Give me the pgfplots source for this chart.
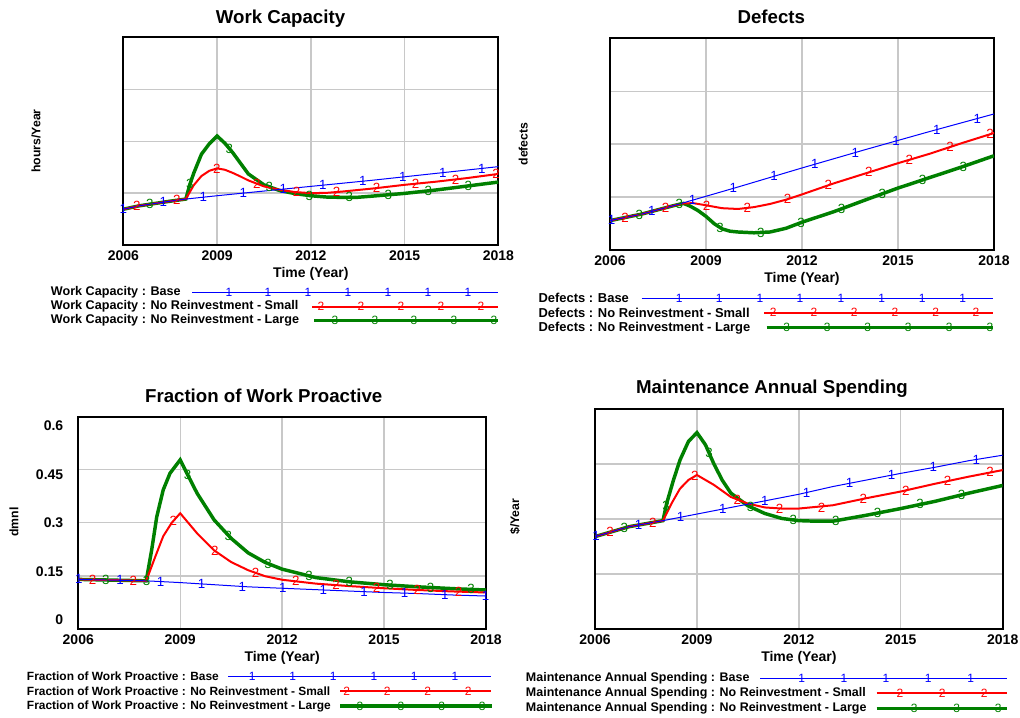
\documentclass[border=0pt]{standalone}
\usepackage{pgfplots}
\pgfplotsset{compat=1.18}
\usepackage{fontspec}
\setmainfont{Liberation Sans}

\definecolor{vblue}{RGB}{0,0,255}
\definecolor{vred}{RGB}{255,0,0}
\definecolor{vgreen}{RGB}{0,128,0}
\definecolor{vgrid}{RGB}{200,200,200}

\newcommand\tfont{\fontsize{14}{16}\selectfont\bfseries}
\newcommand\lfont{\fontsize{9.2}{11}\selectfont\bfseries}
\newcommand\mfont{\fontsize{10}{11}\selectfont}
\newcommand\gfont{\fontsize{9}{10}\selectfont}
\newcommand\kfont{\fontsize{10.5}{12}\selectfont\bfseries}

\pgfplotsset{
  vens/.style={
    scale only axis, anchor=north west,
    xmin=2006, xmax=2018, ymin=0, ymax=4,
    xtick={2006,2009,2012,2015,2018},
    xticklabels={2006,2009,2012,2015,2018},
    ytick={1,2,3}, yticklabels={},
    grid=major,
    major grid style={draw=vgrid, line width=1pt},
    axis line style={line width=1.5pt},
    major tick length=0pt,
    xticklabel style={font=\kfont, yshift=-1pt},
    xlabel={Time (Year)},
    xlabel style={font=\kfont, at={(axis description cs:0.5,0)}, anchor=center, yshift=-21.75pt},
  },
  s1/.style={draw=vblue, line width=0.75pt, mark=none},
  s2/.style={draw=vred, line width=1.5pt, mark=none},
  s3/.style={draw=vgreen, line width=2.6pt, mark=none},
  m1/.style={color=vblue, only marks, mark=text, text mark={1}, text mark as node=true,
    text mark style={font=\mfont, inner sep=0pt, text=vblue}},
  m2/.style={color=vred, only marks, mark=text, text mark={2}, text mark as node=true,
    text mark style={font=\mfont, inner sep=0pt, text=vred}},
  m3/.style={color=vgreen, only marks, mark=text, text mark={3}, text mark as node=true,
    text mark style={font=\mfont, inner sep=0pt, text=vgreen}},
}

\begin{document}
\begin{tikzpicture}
\path[use as bounding box] (0,0) rectangle (765pt,-537.75pt);

% ---------------- Work Capacity
\begin{axis}[vens, at={(92.5pt,-28pt)}, width=281.25pt, height=155.8pt]
\addplot[s3] coordinates {(2006,0.69) (2006.5,0.755) (2007,0.80) (2007.5,0.845) (2008,0.886)
 (2008.125,1.16) (2008.25,1.38) (2008.5,1.75) (2008.75,1.95) (2009,2.10) (2009.25,1.96) (2009.5,1.78)
 (2010,1.37) (2010.5,1.16) (2011,1.05) (2011.5,0.99) (2012,0.95) (2012.5,0.925) (2013,0.918)
 (2013.5,0.92) (2014,0.944) (2015,0.995) (2016,1.06) (2017,1.136) (2018,1.213)};
\addplot[s2] coordinates {(2006,0.69) (2006.5,0.755) (2007,0.80) (2007.5,0.845) (2008,0.886)
 (2008.25,1.15) (2008.5,1.33) (2008.75,1.43) (2009,1.477) (2009.25,1.45) (2009.5,1.39) (2009.75,1.32)
 (2010,1.245) (2010.5,1.13) (2011,1.065) (2011.5,1.02) (2012,1.0) (2012.5,1.005) (2013,1.03)
 (2014,1.09) (2015,1.16) (2016,1.22) (2017,1.29) (2018,1.37)};
\addplot[s1] coordinates {(2006,0.69) (2006.5,0.755) (2007,0.80) (2007.5,0.845) (2008,0.886)
 (2009,0.95) (2010,1.01) (2011,1.07) (2012,1.13) (2013,1.19) (2014,1.25) (2015,1.315)
 (2016,1.38) (2017,1.445) (2018,1.51)};
\addplot[m1] coordinates {(2006.0,0.69) (2007.28,0.825) (2008.56,0.922) (2009.84,1.0) (2011.12,1.077)
 (2012.38,1.153) (2013.66,1.23) (2014.94,1.311) (2016.22,1.394) (2017.47,1.476)};
\addplot[m2] coordinates {(2006.43,0.746) (2007.71,0.862) (2008.99,1.475) (2010.27,1.183) (2011.54,1.018)
 (2012.82,1.02) (2014.1,1.097) (2015.35,1.181) (2016.63,1.264) (2017.93,1.364)};
\addplot[m3] coordinates {(2006.85,0.787) (2008.13,1.17) (2009.39,1.86) (2010.67,1.123) (2011.95,0.954)
 (2013.23,0.918) (2014.48,0.969) (2015.76,1.044) (2017.04,1.139)};
\end{axis}

% ---------------- Defects
\begin{axis}[vens, at={(457.5pt,-28.7pt)}, width=288pt, height=158.8pt]
\addplot[s3] coordinates {(2006,0.555) (2007,0.68) (2008,0.84) (2008.3,0.88) (2008.5,0.83)
 (2008.75,0.745) (2009,0.635) (2009.25,0.50) (2009.5,0.40) (2009.75,0.355) (2010,0.34) (2010.5,0.325)
 (2011,0.34) (2011.5,0.41) (2012,0.525) (2013,0.725) (2014,0.95) (2015,1.17) (2016,1.37)
 (2017,1.57) (2018,1.78)};
\addplot[s2] coordinates {(2006,0.555) (2007,0.68) (2008,0.84) (2008.3,0.88) (2008.6,0.885)
 (2009,0.845) (2009.5,0.79) (2010,0.775) (2010.5,0.81) (2011,0.87) (2011.5,0.95) (2012,1.05)
 (2013,1.26) (2014,1.45) (2015,1.64) (2016,1.82) (2017,2.02) (2018,2.21)};
\addplot[s1] coordinates {(2006,0.555) (2007,0.68) (2008,0.84) (2009,1.015) (2010,1.19) (2011,1.37)
 (2012,1.55) (2013,1.725) (2014,1.90) (2015,2.07) (2016,2.24) (2017,2.405) (2018,2.57)};
\addplot[m1] coordinates {(2006.05,0.561) (2007.31,0.73) (2008.58,0.942) (2009.85,1.164) (2011.13,1.393)
 (2012.40,1.62) (2013.67,1.842) (2014.94,2.06) (2016.21,2.275) (2017.48,2.484)};
\addplot[m2] coordinates {(2006.47,0.614) (2007.74,0.798) (2009.02,0.843) (2010.29,0.795) (2011.55,0.96)
 (2012.82,1.222) (2014.09,1.467) (2015.35,1.703) (2016.63,1.946) (2017.88,2.187)};
\addplot[m3] coordinates {(2006.92,0.67) (2008.17,0.863) (2009.44,0.424) (2010.71,0.331) (2011.97,0.518)
 (2013.24,0.779) (2014.51,1.062) (2015.77,1.324) (2017.04,1.578)};
\end{axis}

% ---------------- Fraction of Work Proactive
\begin{axis}[vens, at={(58.7pt,-312.5pt)}, width=305.8pt, height=159.2pt,
  ymax=0.6, ytick={0.15,0.3,0.45}, yticklabels={},
  extra y ticks={0.0254,0.1625,0.30,0.437,0.574},
  extra y tick labels={0,0.15,0.3,0.45,0.6},
  extra y tick style={grid=none, yticklabel style={font=\kfont, xshift=-7.75pt}}]
\addplot[s3] coordinates {(2006,0.140) (2007,0.138) (2008,0.136) (2008.16,0.223) (2008.31,0.317)
 (2008.5,0.393) (2008.7,0.44) (2009,0.478) (2009.25,0.43) (2009.5,0.383) (2010,0.308) (2010.5,0.256)
 (2011,0.215) (2011.5,0.188) (2012,0.169) (2013,0.145) (2014,0.133) (2015,0.125) (2016,0.119)
 (2017,0.114) (2018,0.110)};
\addplot[s2] coordinates {(2006,0.140) (2007,0.138) (2008,0.136) (2008.25,0.20) (2008.5,0.262)
 (2008.75,0.30) (2009,0.327) (2009.5,0.27) (2010,0.222) (2010.5,0.189) (2011,0.166) (2011.5,0.149)
 (2012,0.139) (2013,0.128) (2014,0.121) (2015,0.115) (2016,0.110) (2017,0.106) (2018,0.103)};
\addplot[s1] coordinates {(2006,0.140) (2007,0.138) (2008,0.136) (2009,0.131) (2010,0.125) (2011,0.119)
 (2012,0.115) (2013,0.111) (2014,0.107) (2015,0.103) (2016,0.100) (2017,0.096) (2018,0.093)};
\addplot[m1] coordinates {(2006.02,0.14) (2007.23,0.138) (2008.42,0.134) (2009.63,0.127) (2010.83,0.12)
 (2012.02,0.115) (2013.21,0.11) (2014.41,0.105) (2015.6,0.101) (2016.79,0.097) (2017.99,0.093)};
\addplot[m2] coordinates {(2006.42,0.139) (2007.62,0.137) (2008.8,0.305) (2010.02,0.221) (2011.22,0.158)
 (2012.4,0.135) (2013.59,0.124) (2014.78,0.116) (2015.98,0.11) (2017.19,0.105)};
\addplot[m3] coordinates {(2006.81,0.138) (2008.01,0.137) (2009.22,0.436) (2010.42,0.264) (2011.59,0.185)
 (2012.79,0.15) (2013.98,0.133) (2015.18,0.124) (2016.37,0.117) (2017.56,0.112)};
\end{axis}

% ---------------- Maintenance Annual Spending
\begin{axis}[vens, at={(446.25pt,-306.75pt)}, width=305.8pt, height=165pt]
\addplot[s3] coordinates {(2006,1.68) (2007,1.86) (2008,1.97) (2008.11,2.285) (2008.31,2.71) (2008.5,3.07)
 (2008.75,3.41) (2009,3.57) (2009.25,3.35) (2009.5,3.0) (2009.75,2.70) (2010,2.47) (2010.5,2.24)
 (2011,2.10) (2011.5,2.01) (2012,1.97) (2012.5,1.96) (2013,1.96) (2014,2.07) (2015,2.19)
 (2016,2.32) (2017,2.47) (2018,2.61)};
\addplot[s2] coordinates {(2006,1.68) (2007,1.86) (2008,1.97) (2008.25,2.28) (2008.5,2.55) (2008.75,2.71)
 (2009,2.80) (2009.5,2.62) (2010,2.40) (2010.5,2.28) (2011,2.21) (2011.5,2.19) (2012,2.19)
 (2013,2.25) (2014,2.38) (2015,2.50) (2016,2.64) (2017,2.77) (2018,2.89)};
\addplot[s1] coordinates {(2006,1.68) (2007,1.86) (2008,1.97) (2009,2.09) (2010,2.21) (2011,2.33)
 (2012,2.45) (2013,2.59) (2014,2.71) (2015,2.83) (2016,2.94) (2017,3.06) (2018,3.16)};
\addplot[m1] coordinates {(2006.03,1.685) (2007.28,1.89) (2008.52,2.03) (2009.76,2.18) (2011.0,2.33)
 (2012.23,2.48) (2013.49,2.65) (2014.73,2.80) (2015.96,2.94) (2017.22,3.08)};
\addplot[m2] coordinates {(2006.44,1.76) (2007.70,1.937) (2008.94,2.78) (2010.19,2.354) (2011.43,2.193)
 (2012.67,2.21) (2013.9,2.367) (2015.15,2.52) (2016.38,2.69) (2017.63,2.852)};
\addplot[m3] coordinates {(2006.86,1.835) (2008.09,2.23) (2009.36,3.20) (2010.58,2.22) (2011.84,1.98)
 (2013.09,1.97) (2014.32,2.11) (2015.57,2.27) (2016.79,2.44)};
\end{axis}

% ---------------- titles, axis names and legends (pixel grid, origin top left)
\begin{scope}[x=0.75pt, y=-0.75pt]
\node[font=\tfont, anchor=base] at (280.5,23.5) {Work Capacity};
\node[font=\tfont, anchor=base] at (771.3,24) {Defects};
\node[font=\tfont, anchor=base] at (263.7,402.5) {Fraction of Work Proactive};
\node[font=\tfont, anchor=base] at (772,393.5) {Maintenance Annual Spending};

\node[font=\lfont, rotate=90] at (36,141) {hours/Year};
\node[font=\lfont, rotate=90] at (523.3,144) {defects};
\node[font=\lfont, rotate=90] at (14,522) {dmnl};
\node[font=\lfont, rotate=90] at (515,516.7) {\$/Year};

% legend: Work Capacity
\begin{scope}[every node/.style={font=\fontsize{9.45}{11}\selectfont\bfseries, anchor=west, inner sep=0pt}]
\node at (50.7,292.7) {Work Capacity : Base};
\node at (50.7,306.7) {Work Capacity : No Reinvestment - Small};
\node at (50.7,320.7) {Work Capacity : No Reinvestment - Large};
\end{scope}
\draw[vblue, line width=0.75pt] (192,292.7) -- (498,292.7);
\draw[vred, line width=1.5pt] (312,306.7) -- (498,306.7);
\draw[vgreen, line width=2.6pt] (314,320.7) -- (498,320.7);
\foreach \x in {229,268,308,348,388,428,468} \node[font=\gfont, text=vblue, inner sep=0pt] at (\x,292.7) {1};
\foreach \x in {321,361,401,441,481} \node[font=\gfont, text=vred, inner sep=0pt] at (\x,306.7) {2};
\foreach \x in {335,375,414,454,494} \node[font=\gfont, text=vgreen, inner sep=0pt] at (\x,320.7) {3};

% legend: Defects
\begin{scope}[every node/.style={font=\fontsize{9.7}{11}\selectfont\bfseries, anchor=west, inner sep=0pt}]
\node at (538.3,298.3) {Defects : Base};
\node at (538.3,312.7) {Defects : No Reinvestment - Small};
\node at (538.3,327.7) {Defects : No Reinvestment - Large};
\end{scope}
\draw[vblue, line width=0.75pt] (641.7,298.3) -- (993.3,298.3);
\draw[vred, line width=1.5pt] (764,312.7) -- (993.3,312.7);
\draw[vgreen, line width=2.6pt] (766.7,327.7) -- (993.3,327.7);
\foreach \x in {679.3,719.3,760,800,841,881.7,922.3,962.7} \node[font=\gfont, text=vblue, inner sep=0pt] at (\x,298.3) {1};
\foreach \x in {773.3,814,854.3,895,935.7,976} \node[font=\gfont, text=vred, inner sep=0pt] at (\x,312.7) {2};
\foreach \x in {786.7,827.3,867.7,908.3,949.3,990} \node[font=\gfont, text=vgreen, inner sep=0pt] at (\x,327.7) {3};

% legend: Fraction of Work Proactive
\begin{scope}[every node/.style={font=\fontsize{8.95}{11}\selectfont\bfseries, anchor=west, inner sep=0pt}]
\node at (26.7,676.7) {Fraction of Work Proactive : Base};
\node at (26.7,691) {Fraction of Work Proactive : No Reinvestment - Small};
\node at (26.7,706) {Fraction of Work Proactive : No Reinvestment - Large};
\end{scope}
\draw[vblue, line width=0.75pt] (228.3,676.7) -- (490.7,676.7);
\draw[vred, line width=1.5pt] (340,691) -- (490.7,691);
\draw[vgreen, line width=2.6pt] (340,706) -- (491.7,706);
\foreach \x in {252.3,292.7,333.3,374,414.3,455} \node[font=\gfont, text=vblue, inner sep=0pt] at (\x,676.7) {1};
\foreach \x in {346.7,387.3,427.7,468.3} \node[font=\gfont, text=vred, inner sep=0pt] at (\x,691) {2};
\foreach \x in {360,401,441.7,482.3} \node[font=\gfont, text=vgreen, inner sep=0pt] at (\x,706) {3};

% legend: Maintenance Annual Spending
\begin{scope}[every node/.style={font=\fontsize{9.35}{11}\selectfont\bfseries, anchor=west, inner sep=0pt}]
\node at (525.7,678.3) {Maintenance Annual Spending : Base};
\node at (525.7,693.3) {Maintenance Annual Spending : No Reinvestment - Small};
\node at (525.7,708.3) {Maintenance Annual Spending : No Reinvestment - Large};
\end{scope}
\draw[vblue, line width=0.75pt] (760,678.3) -- (1007.3,678.3);
\draw[vred, line width=1.5pt] (876.7,693.3) -- (1007.3,693.3);
\draw[vgreen, line width=2.6pt] (876.7,708.3) -- (1007.3,708.3);
\foreach \x in {801.7,844,886,928.3,970.7} \node[font=\gfont, text=vblue, inner sep=0pt] at (\x,678.3) {1};
\foreach \x in {900,942.3,984.3} \node[font=\gfont, text=vred, inner sep=0pt] at (\x,693.3) {2};
\foreach \x in {914.3,956.7,998.3} \node[font=\gfont, text=vgreen, inner sep=0pt] at (\x,708.3) {3};
\end{scope}
\end{tikzpicture}
\end{document}
